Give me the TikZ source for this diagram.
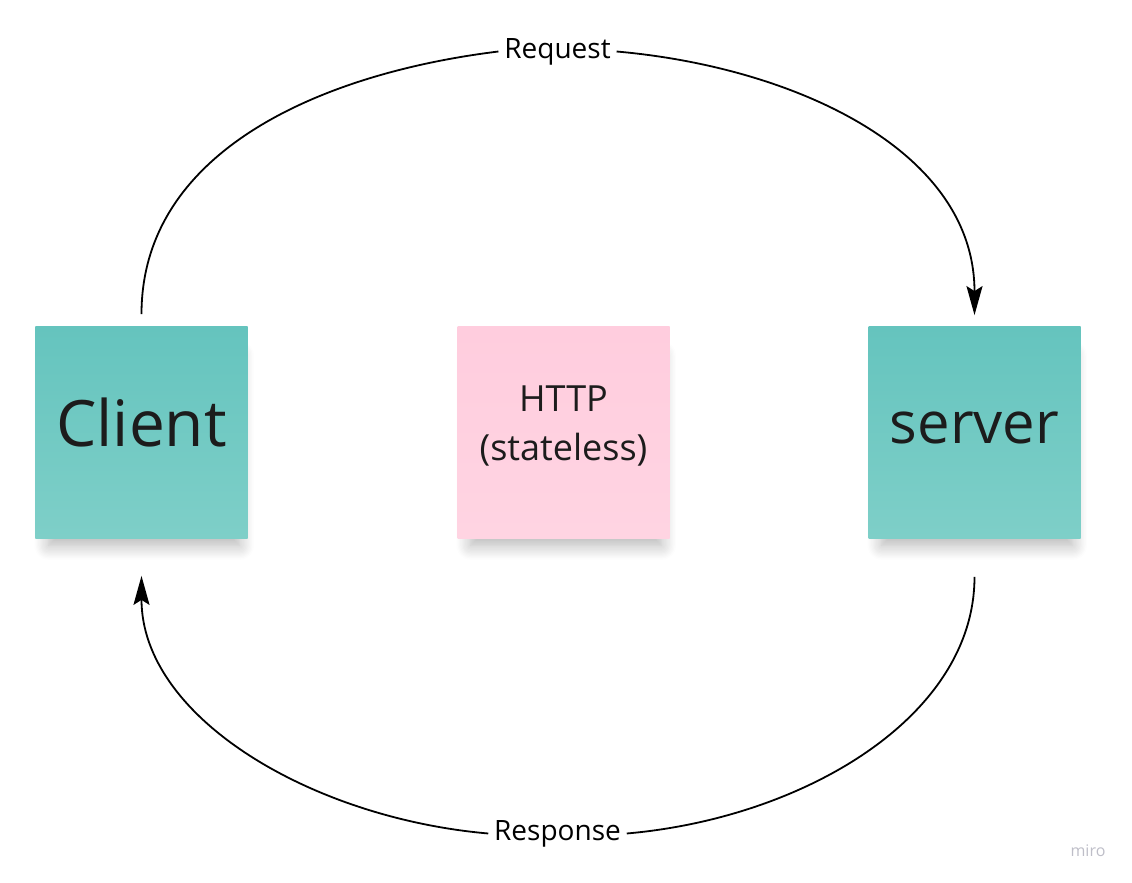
\documentclass[tikz,border=0pt]{standalone}
\usepackage{fontspec}
\setmainfont{Open Sans}
\usetikzlibrary{positioning, arrows.meta, shadows.blur}

\definecolor{tealtop}{RGB}{101,196,190}
\definecolor{tealbot}{RGB}{126,207,200}
\definecolor{pinktop}{RGB}{255,205,222}
\definecolor{pinkbot}{RGB}{255,212,226}
\definecolor{inkgray}{RGB}{28,28,28}
\definecolor{mirogray}{RGB}{190,190,200}

\begin{document}
\begin{tikzpicture}[x=1pt,y=1pt,>={Stealth[length=29pt,width=16pt,inset=5pt]},line width=1.8pt,node distance=422pt]
  \tikzstyle{sticky}=[minimum width=212pt,minimum height=211pt,inner sep=0pt,text=inkgray,
    blur shadow={shadow xshift=3pt,shadow yshift=-20pt,shadow scale=0.9,shadow blur radius=16pt,shadow blur steps=12,shadow opacity=30}]
  \tikzstyle{word}=[text depth=0pt,text height=#1]
  \tikzstyle{msg}=[font=\fontsize{28}{34}\selectfont,text=black,inner sep=5pt]

  \useasboundingbox (-141.5,432.5) rectangle (990.5,-450.5);

  \node[sticky, top color=tealtop, bottom color=tealbot, word=29pt, font=\fontsize{64}{76}\selectfont] (client) {Client};
  \node[sticky, top color=pinktop, bottom color=pinkbot, align=center, font=\fontsize{36}{49}\selectfont] (http) [right of=client] {HTTP\\(stateless)\rule[-18pt]{0pt}{1pt}};
  \node[sticky, top color=tealtop, bottom color=tealbot, word=23pt, font=\fontsize{58}{70}\selectfont] (server) [right of=http, node distance=411pt] {server};

  \node[msg] (request) [above of=http, node distance=381pt, xshift=-6pt] {Request};
  \node[msg] (response) [below of=http, node distance=401pt, xshift=-6pt] {Response};

  \draw[shorten <=12pt] (client.north) to[out=90, in=187] (request.west);
  \draw[->, shorten >=11pt] (request.east) to[out=-5, in=90] (server.north);
  \draw[shorten <=38pt] (server.south) to[out=-90, in=5] (response.east);
  \draw[->, shorten >=37pt] (response.west) to[out=175, in=-90] (client.south);

  \node[text=mirogray, font=\fontsize{16}{16}\selectfont] (brand) at (946.5,-418.5) {miro};
\end{tikzpicture}
\end{document}
